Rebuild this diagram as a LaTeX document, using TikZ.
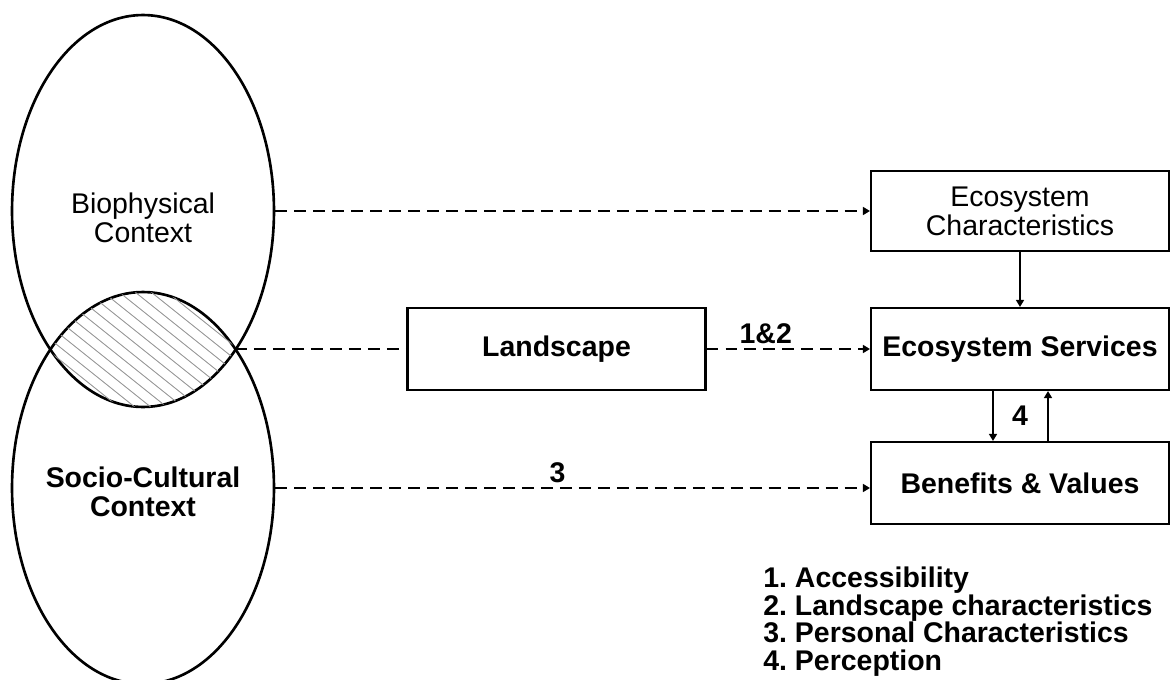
\documentclass[tikz,border=0pt]{standalone}
\usepackage{fontspec}
\setmainfont{Liberation Sans}
\usetikzlibrary{positioning, calc, arrows.meta, shapes.geometric}

\begin{document}
\begin{tikzpicture}[x=0.02cm, y=-0.02cm,
        every node/.style={font=\fontsize{16.2}{16.5}\selectfont},
        ctx/.style={draw, ellipse, line width=1.5pt, inner sep=0pt,
            minimum width=5.24cm, minimum height=7.84cm},
        box/.style={draw, line width=1.2pt, minimum width=5.96cm,
            minimum height=1.64cm, align=center},
        flow/.style={line width=1.3pt, dash pattern=on 6.8pt off 4pt,
            -{Triangle[length=4pt, width=4.5pt]}},
        link/.style={line width=1.1pt, -{Triangle[length=4pt, width=4.5pt]}},
        hatch/.style={gray!80, line width=0.5pt}]

    \useasboundingbox (0,0) rectangle (1172,679);

    % Context ellipses
    \node[ctx] (bio) at (143,211) {};
    \node[ctx] (soc) at (143,488) {};

    % Hatched overlap
    \begin{scope}
        \clip (143,211) ellipse [x radius=2.62cm, y radius=3.92cm];
        \clip (143,488) ellipse [x radius=2.62cm, y radius=3.92cm];
        \foreach \k in {-104,-88,...,260}
            \draw[hatch] (\k,280) -- ++(200,160);
    \end{scope}

    % Ellipse labels
    \node[align=center] (biotext) at (143,218) {Biophysical\\Context};
    \node[align=center, font=\fontsize{16.2}{16.5}\selectfont\bfseries] (soctext) at (143,492) {Socio-Cultural\\Context};
    \coordinate (overlap) at (235,349);

    % Boxes
    \node[box, minimum height=1.6cm] (chars) at (1020,211) {Ecosystem\\Characteristics};
    \node[box, font=\fontsize{16.2}{16.5}\selectfont\bfseries] (serv) at (1020,349) {Ecosystem Services};
    \node[box, font=\fontsize{16.2}{16.5}\selectfont\bfseries] (ben) at (1020,483) {Benefits \& Values};
    \node[box, font=\fontsize{16.2}{16.5}\selectfont\bfseries] (land) at (556.5,349) {Landscape};

    % Dashed links
    \draw[flow] (bio.east) -- (bio.east -| chars.west);
    \draw[line width=1.3pt, dash pattern=on 6.8pt off 4pt] (overlap) -- (land.west);
    \draw[flow] (land.east) -- node[above=-1pt, font=\fontsize{16.2}{16.5}\selectfont\bfseries, xshift=-0.45cm] (one) {1\&2} (serv.west);
    \draw[flow] (soc.east) -- node[above=-1pt, font=\fontsize{16.2}{16.5}\selectfont\bfseries, xshift=-0.3cm] (three) {3} (soc.east -| ben.west);

    % Solid links
    \draw[link] (chars) -- (serv);
    \draw[link] ($(serv.south)+(-27,0)$) -- ($(ben.north)+(-27,0)$);
    \draw[link] ($(ben.north)+(28,0)$) -- ($(serv.south)+(28,0)$);
    \node[font=\fontsize{16.2}{16.5}\selectfont\bfseries] (four) at (1020,416) {4};

    % Legend
    \node[anchor=north west, inner sep=0pt, align=left,
        font=\fontsize{16.2}{15.6}\selectfont\bfseries] (legend) at (763,567)
        {1.\ Accessibility\\2.\ Landscape characteristics\\3.\ Personal Characteristics\\4.\ Perception};

\end{tikzpicture}
\end{document}
